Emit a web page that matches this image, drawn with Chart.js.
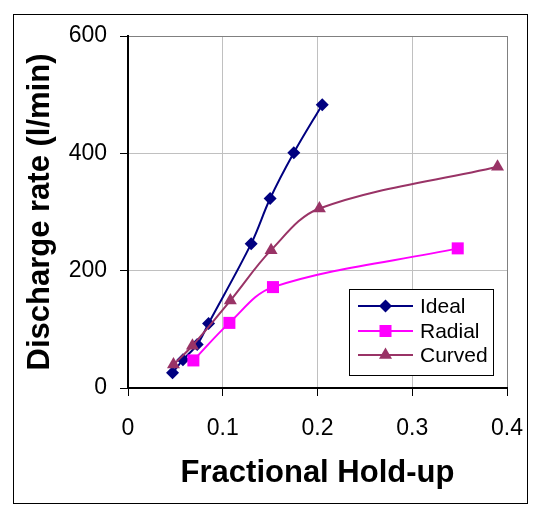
<!DOCTYPE html>
<html>
<head>
<meta charset="utf-8">
<script src="https://cdn.jsdelivr.net/npm/chart.js@4.4.1/dist/chart.umd.min.js"></script>
<style>
  html, body { margin: 0; padding: 0; background: #fff; }
  #wrap { width: 546px; height: 521px; }
</style>
</head>
<body>
<div id="wrap"><canvas id="chart" width="546" height="521"></canvas></div>
<script>
// values
const seriesNames = ["Ideal", "Radial", "Curved"];
const idealX = [0.047, 0.058, 0.073, 0.085, 0.13, 0.15, 0.175, 0.205];
const idealY = [26, 48, 74, 110, 246, 323, 401, 483];
const radialX = [0.069, 0.107, 0.153, 0.348];
const radialY = [47, 111, 172, 238];
const curvedX = [0.048, 0.068, 0.108, 0.151, 0.202, 0.39];
const curvedY = [40, 72, 149, 235, 306, 377];
const xTicks = [0, 0.1, 0.2, 0.3, 0.4];
const xTickLabels = ["0", "0.1", "0.2", "0.3", "0.4"];
const yTicks = [0, 200, 400, 600];
const yTickLabels = ["0", "200", "400", "600"];

const FONT = "'Liberation Sans', Arial, sans-serif";
const colors = ["#000080", "#ff00ff", "#993366"];
const markers = ["rectRot", "rect", "triangle"];
const radii = [6.5, 8.5, 7.5];

const toPoints = (xs, ys) => xs.map((x, i) => ({ x: x, y: ys[i] }));

function marker(ctx, style, x, y, r) {
  ctx.beginPath();
  if (style === "rectRot") {
    ctx.moveTo(x, y - r); ctx.lineTo(x + r, y); ctx.lineTo(x, y + r); ctx.lineTo(x - r, y);
  } else if (style === "rect") {
    const s = Math.SQRT1_2 * r;
    ctx.rect(x - s, y - s, 2 * s, 2 * s);
  } else {
    ctx.moveTo(x, y - r);
    ctx.lineTo(x + r * Math.cos(Math.PI / 6), y + r / 2);
    ctx.lineTo(x - r * Math.cos(Math.PI / 6), y + r / 2);
  }
  ctx.closePath();
  ctx.fill();
}

// frame round the picture and the legend box inside the plot
const decor = {
  id: "decor",
  afterDraw(chart) {
    const ctx = chart.ctx;
    ctx.save();
    ctx.strokeStyle = "#000";
    ctx.lineWidth = 1;
    ctx.strokeRect(13.5, 14.5, 514, 489);

    ctx.fillStyle = "#fff";
    ctx.fillRect(349.5, 289.5, 144, 86);
    ctx.strokeRect(349.5, 289.5, 144, 86);
    const rows = [306, 331, 355];
    ctx.font = "21px " + FONT;
    ctx.textBaseline = "middle";
    seriesNames.forEach((name, i) => {
      const y = rows[i];
      ctx.strokeStyle = colors[i];
      ctx.lineWidth = 2;
      ctx.beginPath();
      ctx.moveTo(358, y); ctx.lineTo(413, y);
      ctx.stroke();
      ctx.fillStyle = colors[i];
      marker(ctx, markers[i], 385.5, y, radii[i]);
      ctx.fillStyle = "#000";
      ctx.fillText(name, 420, y + 1);
    });
    ctx.restore();
  }
};

const dataSets = [toPoints(idealX, idealY), toPoints(radialX, radialY), toPoints(curvedX, curvedY)];

new Chart(document.getElementById("chart"), {
  type: "line",
  data: {
    datasets: dataSets.map((pts, i) => ({
      label: seriesNames[i],
      data: pts,
      borderColor: colors[i],
      backgroundColor: colors[i],
      pointBackgroundColor: colors[i],
      pointBorderColor: colors[i],
      pointBorderWidth: 0,
      borderWidth: 2,
      pointStyle: markers[i],
      pointRadius: radii[i],
      tension: 0.35,
      order: 2 - i,
      clip: false
    }))
  },
  options: {
    responsive: false,
    animation: false,
    devicePixelRatio: 1,
    layout: { padding: { left: 0, top: 36, right: 39, bottom: 0 } },
    plugins: { legend: { display: false }, tooltip: { enabled: false } },
    scales: {
      x: {
        type: "linear",
        min: 0,
        max: 0.4,
        afterBuildTicks: s => { s.ticks = xTicks.map(v => ({ value: v })); },
        afterFit: s => { s.height = 133; },
        ticks: {
          callback: (v, i) => xTickLabels[i],
          font: { family: FONT, size: 23 },
          color: "#000",
          padding: 19,
          maxRotation: 0,
          autoSkip: false
        },
        grid: {
          color: c => (c.tick && c.tick.value === 0.4 ? "#808080" : "#c0c0c0"),
          tickColor: "#000",
          tickLength: 8,
          lineWidth: 1
        },
        border: { color: "#000", width: 2 },
        title: {
          display: true,
          text: "Fractional Hold-up",
          font: { family: FONT, size: 31, weight: "bold" },
          color: "#000",
          padding: { top: 0, bottom: 29 }
        }
      },
      y: {
        min: 0,
        max: 600,
        afterBuildTicks: s => { s.ticks = yTicks.map(v => ({ value: v })); },
        afterFit: s => { s.width = 128; },
        ticks: {
          callback: (v, i) => yTickLabels[i],
          font: { family: FONT, size: 23 },
          color: "#000",
          padding: 13
        },
        grid: {
          color: c => (c.tick && c.tick.value === 600 ? "#808080" : "#c0c0c0"),
          tickColor: "#000",
          tickLength: 8,
          lineWidth: 1
        },
        border: { color: "#000", width: 2 },
        title: {
          display: true,
          text: "Discharge rate (l/min)",
          font: { family: FONT, size: 31, weight: "bold" },
          color: "#000",
          padding: { top: 22, bottom: 0 }
        }
      }
    }
  },
  plugins: [decor]
});
</script>
</body>
</html>
